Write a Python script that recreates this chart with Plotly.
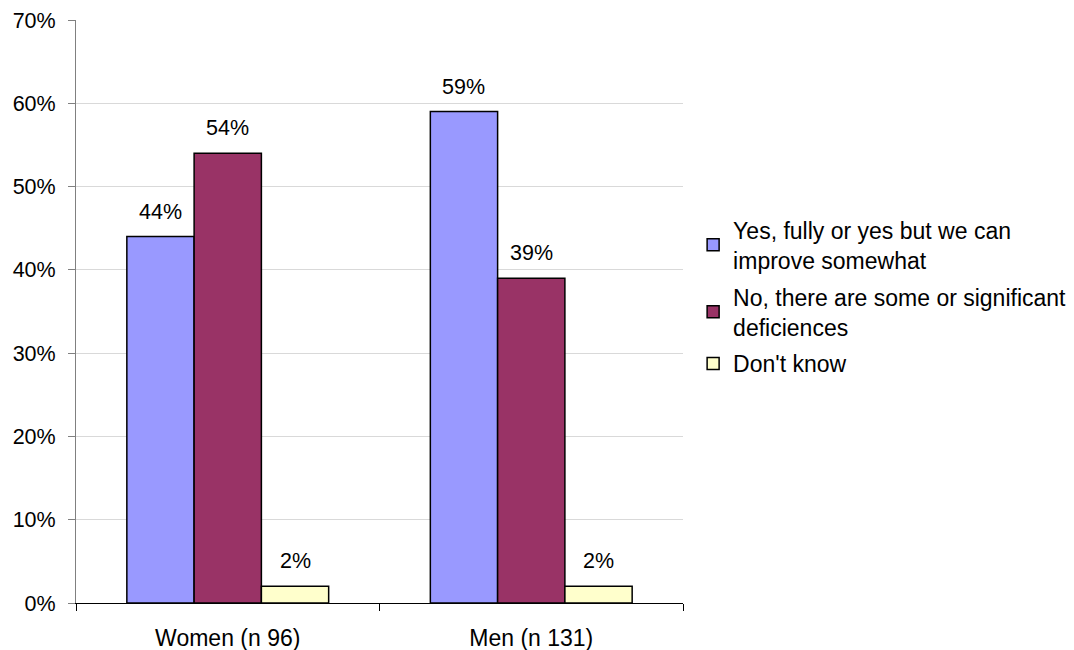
import plotly.graph_objects as go

categories = ["Women (n 96)", "Men (n 131)"]
series_names = [
    "Yes, fully or yes but we can<br>improve somewhat",
    "No, there are some or significant<br>deficiences",
    "Don't know",
]
yes_values = [0.44, 0.59]
no_values = [0.54, 0.39]
dontknow_values = [0.02, 0.02]
y_tick_values = [0, 0.1, 0.2, 0.3, 0.4, 0.5, 0.6, 0.7]

colors = ["#9999FF", "#993366", "#FFFFCC"]
FONT = "Liberation Sans, Arial, sans-serif"
FS = 21.5
FS_BIG = 23
BARGAP = 0.335

all_series = [yes_values, no_values, dontknow_values]
x_idx = list(range(len(categories)))

fig = go.Figure()
for k, (name, vals, col) in enumerate(zip(series_names, all_series, colors)):
    fig.add_trace(go.Bar(
        x=x_idx, y=vals, name=name, legendgroup=f"g{k}",
        marker=dict(color=col, line=dict(color="black", width=1.5)),
    ))

# value labels above bars, positioned through the axis scale
n = len(all_series)
bw = (1 - BARGAP) / n
for j, vals in enumerate(all_series):
    for i, v in enumerate(vals):
        fig.add_annotation(
            x=i + (j - (n - 1) / 2) * bw, y=v, xref="x", yref="y",
            text=f"{v:.0%}", showarrow=False, yanchor="bottom", yshift=11,
            font=dict(family=FONT, size=FS, color="black"),
        )

fig.update_layout(
    width=1074, height=650,
    margin=dict(l=68, r=398, t=12, b=55),
    paper_bgcolor="white", plot_bgcolor="white",
    barmode="group", bargap=BARGAP, bargroupgap=0,
    font=dict(family=FONT, size=FS, color="black"),
    showlegend=True,
    legend=dict(
        x=1.015, xanchor="left", y=0.525, yanchor="middle",
        font=dict(family=FONT, size=FS_BIG, color="black"),
        bgcolor="rgba(0,0,0,0)", tracegroupgap=4,
    ),
)
fig.update_xaxes(
    range=[-0.5, len(categories) - 0.5], automargin=False,
    tickmode="array", tickvals=x_idx, ticktext=categories, ticks="",
    minor=dict(tick0=-0.5, dtick=1, ticks="outside", ticklen=7, tickcolor="black", tickwidth=1, showgrid=False),
    showline=True, linecolor="black", linewidth=1,
    showgrid=False, zeroline=False, ticklabelstandoff=14,
    tickfont=dict(family=FONT, size=FS_BIG, color="black"),
)
fig.update_yaxes(
    range=[0, 0.7], tickmode="array", tickvals=y_tick_values, tickformat=".0%",
    automargin=False,
    ticks="outside", ticklen=7, tickcolor="#808080",
    showline=True, linecolor="#808080", linewidth=1,
    showgrid=True, gridcolor="#D9D9D9", gridwidth=1,
    zeroline=False, ticklabelstandoff=8,
    tickfont=dict(family=FONT, size=FS, color="black"),
)

fig.write_html("out.html")
